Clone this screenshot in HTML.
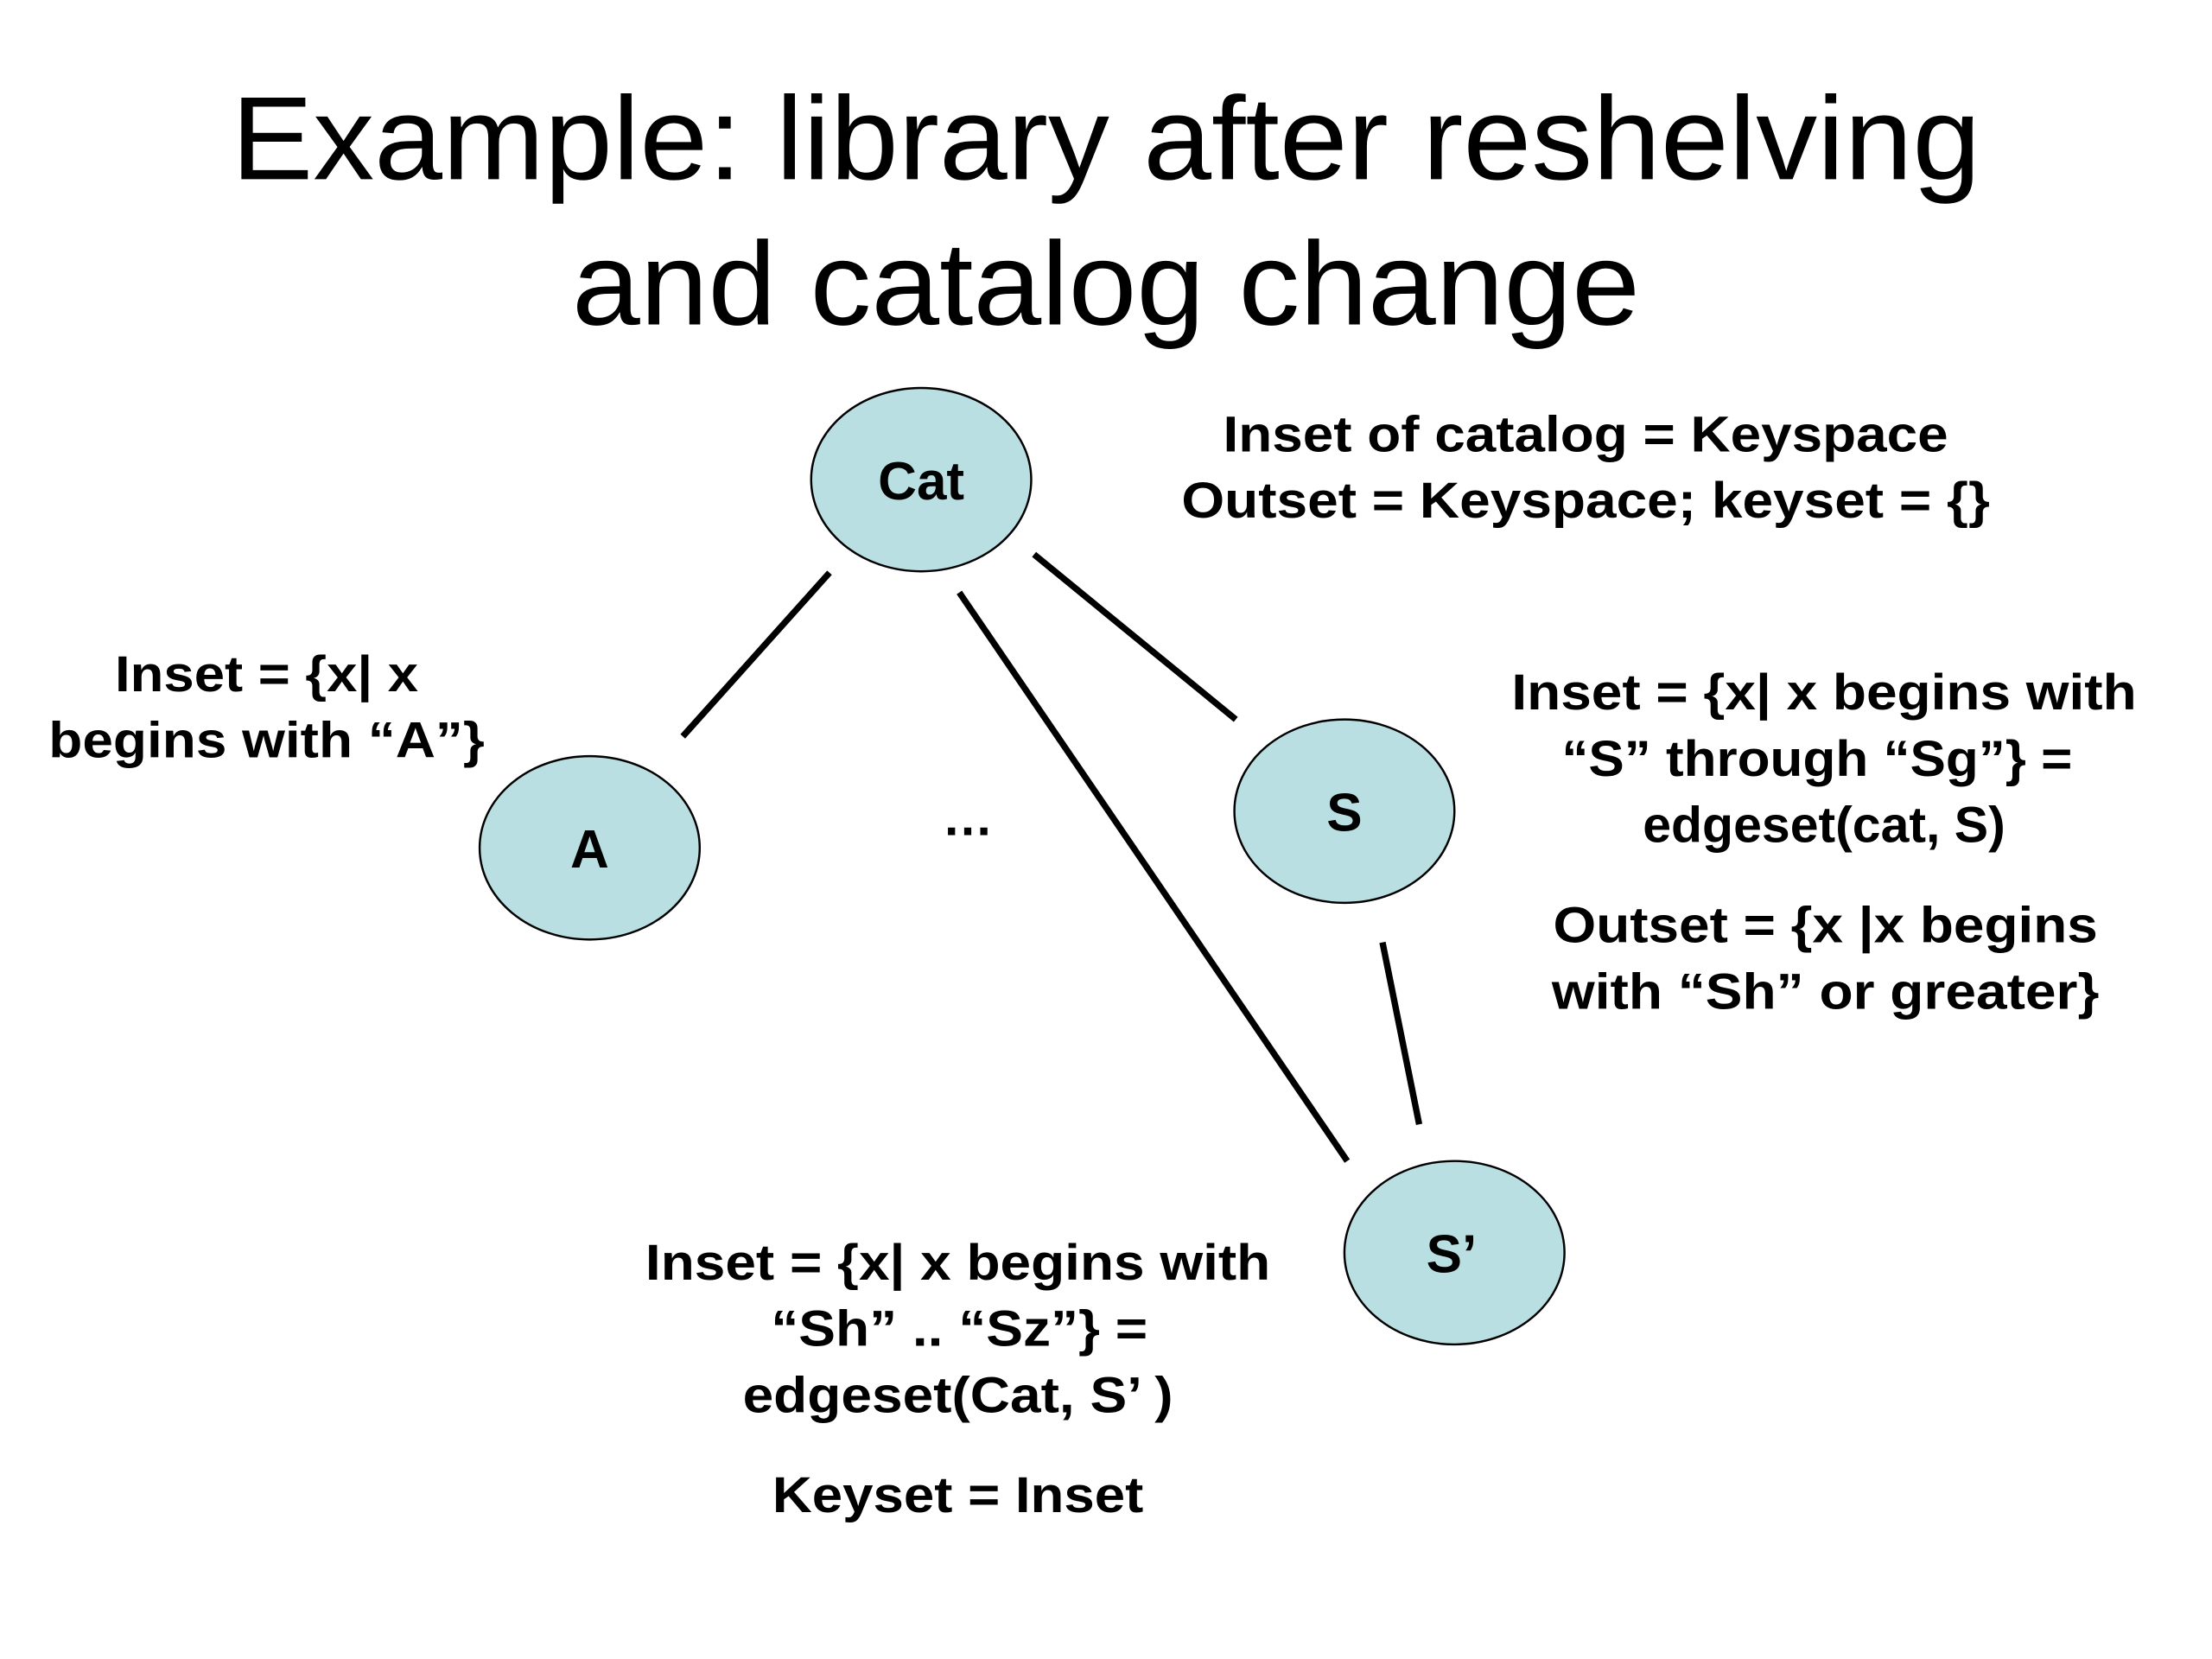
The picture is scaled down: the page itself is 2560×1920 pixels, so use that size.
<!DOCTYPE html>
<html><head><meta charset="utf-8"><style>html,body{margin:0;padding:0;background:#fff}svg{display:block}</style></head>
<body>
<svg width="2560" height="1920" viewBox="0 0 1568 1176" xmlns="http://www.w3.org/2000/svg">
<rect width="1600" height="1200" fill="#fff"/>
<g font-family="Liberation Sans, Arial, sans-serif" text-anchor="middle" fill="#000">
<text x="784" y="127" font-size="84" textLength="1240" lengthAdjust="spacingAndGlyphs">Example: library after reshelving</text>
<text x="784" y="230" font-size="84" textLength="757" lengthAdjust="spacingAndGlyphs">and catalog change</text>
</g>
<g stroke="#000" stroke-width="4.5" stroke-linecap="butt">
<line x1="588" y1="406" x2="484" y2="522"/>
<line x1="680" y1="420" x2="955" y2="823"/>
<line x1="733" y1="393" x2="876" y2="510"/>
<line x1="980" y1="668" x2="1006" y2="797"/>
</g>
<g fill="#b9dfe3" stroke="#000" stroke-width="1.5">
<ellipse cx="653" cy="340" rx="78" ry="65"/>
<ellipse cx="418" cy="601" rx="78" ry="65"/>
<ellipse cx="953" cy="575" rx="78" ry="65"/>
<ellipse cx="1031" cy="888" rx="78" ry="65"/>
</g>
<g font-family="Liberation Sans, Arial, sans-serif" font-weight="bold" text-anchor="middle" fill="#000" font-size="36" lengthAdjust="spacingAndGlyphs">
<text x="653" y="354" font-size="38">Cat</text>
<text x="418" y="615" font-size="38">A</text>
<text x="953" y="589" font-size="38">S</text>
<text x="1029" y="902" font-size="38">S’</text>
<text x="686" y="592">…</text>
<text x="1124" y="320" textLength="514" lengthAdjust="spacingAndGlyphs">Inset of catalog = Keyspace</text>
<text x="1124" y="367" textLength="573" lengthAdjust="spacingAndGlyphs">Outset = Keyspace; keyset = {}</text>
<text x="189" y="490" textLength="215" lengthAdjust="spacingAndGlyphs">Inset = {x| x</text>
<text x="189" y="537" textLength="309" lengthAdjust="spacingAndGlyphs">begins with “A”}</text>
<text x="1293" y="503" textLength="443" lengthAdjust="spacingAndGlyphs">Inset = {x| x begins with</text>
<text x="1288" y="550" textLength="362" lengthAdjust="spacingAndGlyphs">“S” through “Sg”} =</text>
<text x="1293" y="597" textLength="257" lengthAdjust="spacingAndGlyphs">edgeset(cat, S)</text>
<text x="1294" y="668" textLength="386" lengthAdjust="spacingAndGlyphs">Outset = {x |x begins</text>
<text x="1294" y="715" textLength="388" lengthAdjust="spacingAndGlyphs">with “Sh” or greater}</text>
<text x="679" y="907" textLength="443" lengthAdjust="spacingAndGlyphs">Inset = {x| x begins with</text>
<text x="680" y="954" textLength="267" lengthAdjust="spacingAndGlyphs">“Sh” .. “Sz”} =</text>
<text x="679" y="1001" textLength="305" lengthAdjust="spacingAndGlyphs">edgeset(Cat, S’ )</text>
<text x="679" y="1072" textLength="263" lengthAdjust="spacingAndGlyphs">Keyset = Inset</text>
</g>
</svg>
</body></html>
